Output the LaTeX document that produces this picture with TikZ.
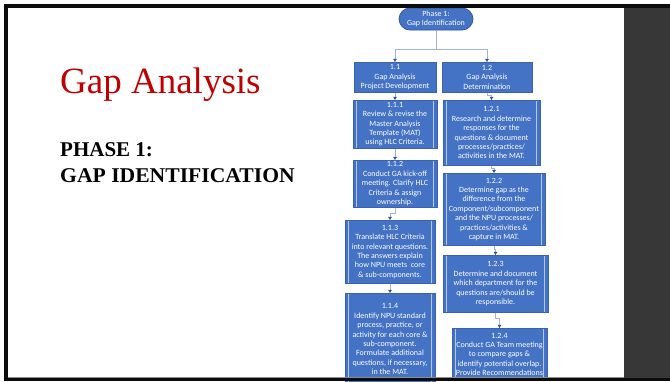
\documentclass[tikz,border=0pt]{standalone}
\usepackage{fontspec}
\setmainfont{Liberation Serif}
\newfontfamily\boxfont{Carlito}
\usetikzlibrary{arrows.meta}

\definecolor{boxblue}{HTML}{4472C4}
\definecolor{boxedge}{HTML}{3A62AE}
\definecolor{innerline}{HTML}{B4C7E7}
\definecolor{linkgray}{HTML}{A3B4D4}
\definecolor{tipblue}{HTML}{2F5597}
\definecolor{titlered}{HTML}{C00000}
\definecolor{framedark}{HTML}{0C0C0C}
\definecolor{sidepanel}{HTML}{373737}

\tikzset{
  boxtext/.style={text=white, align=center, inner sep=0pt,
    font=\boxfont\fontsize{8}{9.4}\selectfont},
  plainbox/.style={boxtext, draw=boxedge, fill=boxblue, line width=0.6pt, anchor=north},
  % flowchart "predefined process": rectangle with an inset bar on each side
  procbox/.style={plainbox,
    path picture={
      \draw[innerline, line width=0.6pt]
        ([xshift=3.5pt]path picture bounding box.north west) --
        ([xshift=3.5pt]path picture bounding box.south west);
      \draw[innerline, line width=0.6pt]
        ([xshift=-3.5pt]path picture bounding box.north east) --
        ([xshift=-3.5pt]path picture bounding box.south east);
    }},
  phasebox/.style={boxtext, draw=tipblue, fill=boxblue, line width=0.7pt,
    rounded corners=11pt, font=\boxfont\fontsize{8}{9}\selectfont},
  link/.style={draw=linkgray, line width=0.8pt,
    -{Triangle[length=3.2pt,width=3.6pt,color=tipblue]}},
  trunk/.style={draw=linkgray, line width=0.8pt},
  heading/.style={anchor=base west, inner sep=0pt,
    font=\bfseries\fontsize{21}{24}\selectfont},
}

\begin{document}
\begin{tikzpicture}[x=1pt,y=-1pt]
\useasboundingbox (0,0) rectangle (670,381);
\fill[white] (0,0) rectangle (670,381);

% slide titles
\node[anchor=base west, inner sep=0pt, text=titlered,
      font=\fontsize{37}{40}\selectfont] (title) at (60,93) {Gap Analysis};
\node[heading] (phase) at (60,156.5) {PHASE 1:};
\node[heading, xscale=1.03] (gapid) at (60,182) {GAP IDENTIFICATION};

% root of the chart
\node[phasebox, minimum width=74pt, minimum height=22pt] (root) at (436,19)
  {Phase 1:\\Gap Identification};

% second level
\node[plainbox, minimum width=82pt, minimum height=30pt] (b11) at (395,62)
  {1.1\\Gap Analysis\\Project Development};
\node[plainbox, minimum width=90pt, minimum height=30pt] (b12) at (487,62)
  {1.2\\Gap Analysis\\Determination};

% left column
\node[procbox, minimum width=84pt, minimum height=48pt] (b111) at (395,100)
  {1.1.1\\Review \& revise the\\Master Analysis\\Template (MAT)\\using HLC Criteria.};
\node[procbox, minimum width=84pt, minimum height=47pt] (b112) at (395,160)
  {1.1.2\\Conduct GA kick-off\\meeting. Clarify HLC\\Criteria \& assign\\ownership.};
\node[procbox, minimum width=90pt, minimum height=63pt] (b113) at (390,220)
  {1.1.3\\Translate HLC Criteria\\into relevant questions.\\The answers explain\\how NPU meets\ \ core\\\& sub-components.};
\node[procbox, minimum width=90pt, minimum height=92pt] (b114) at (390,293)
  {1.1.4\\Identify NPU standard\\process, practice, or\\activity for each core \&\\sub-component.\\Formulate additional\\questions, if necessary,\\in the MAT.};

% right column
\node[procbox, minimum width=97pt, minimum height=65pt] (b121) at (491.5,100)
  {1.2.1\\Research and determine\\responses for the\\questions \& document\\processes/practices/\\activities in the MAT.};
\node[procbox, minimum width=102pt, minimum height=72pt] (b122) at (494,173)
  {1.2.2\\Determine gap as the\\difference from the\\Component/subcomponent\\and the NPU processes/\\practices/activities \&\\capture in MAT.};
\node[procbox, minimum width=105pt, minimum height=57pt] (b123) at (495.5,255)
  {1.2.3\\Determine and document\\which department for the\\questions are/should be\\responsible.};
\node[procbox, minimum width=95pt, minimum height=52pt] (b124) at (499.5,328)
  {1.2.4\\Conduct GA Team meeting\\to compare gaps \&\\identify potential overlap.\\Provide Recommendations};

% connectors
\coordinate (split) at (436,49);
\draw[trunk] (root.south) -- (split);
\draw[link] (split) -| (b11.north);
\draw[link] (split) -| (b12.north);

\draw[link] (b11.south) -- (b111.north);
\draw[link] (b111.south) -- (b112.north);
\draw[link] (b112.south) -- ++(0,6) -| (b113.north);
\draw[link] (b113.south) -- (b114.north);

\draw[link] (b12.south) -- ++(0,3) -| (b121.north);
\draw[link] (b121.south) -- ++(0,3) -| (b122.north);
\draw[link] (b122.south) -- ++(0,4) -| (b123.north);
\draw[link] (b123.south) -- ++(0,6) -| (b124.north);

% screen frame and side panel
\fill[sidepanel] (624,7.5) rectangle (670,377.5);
\fill[framedark] (4,4) rectangle (670,7.5);
\fill[framedark] (4,4) rectangle (7.5,381);
\fill[black!45] (7.5,376.6) rectangle (624,377.6);
\fill[framedark] (4,377.6) rectangle (670,381);
\end{tikzpicture}
\end{document}
